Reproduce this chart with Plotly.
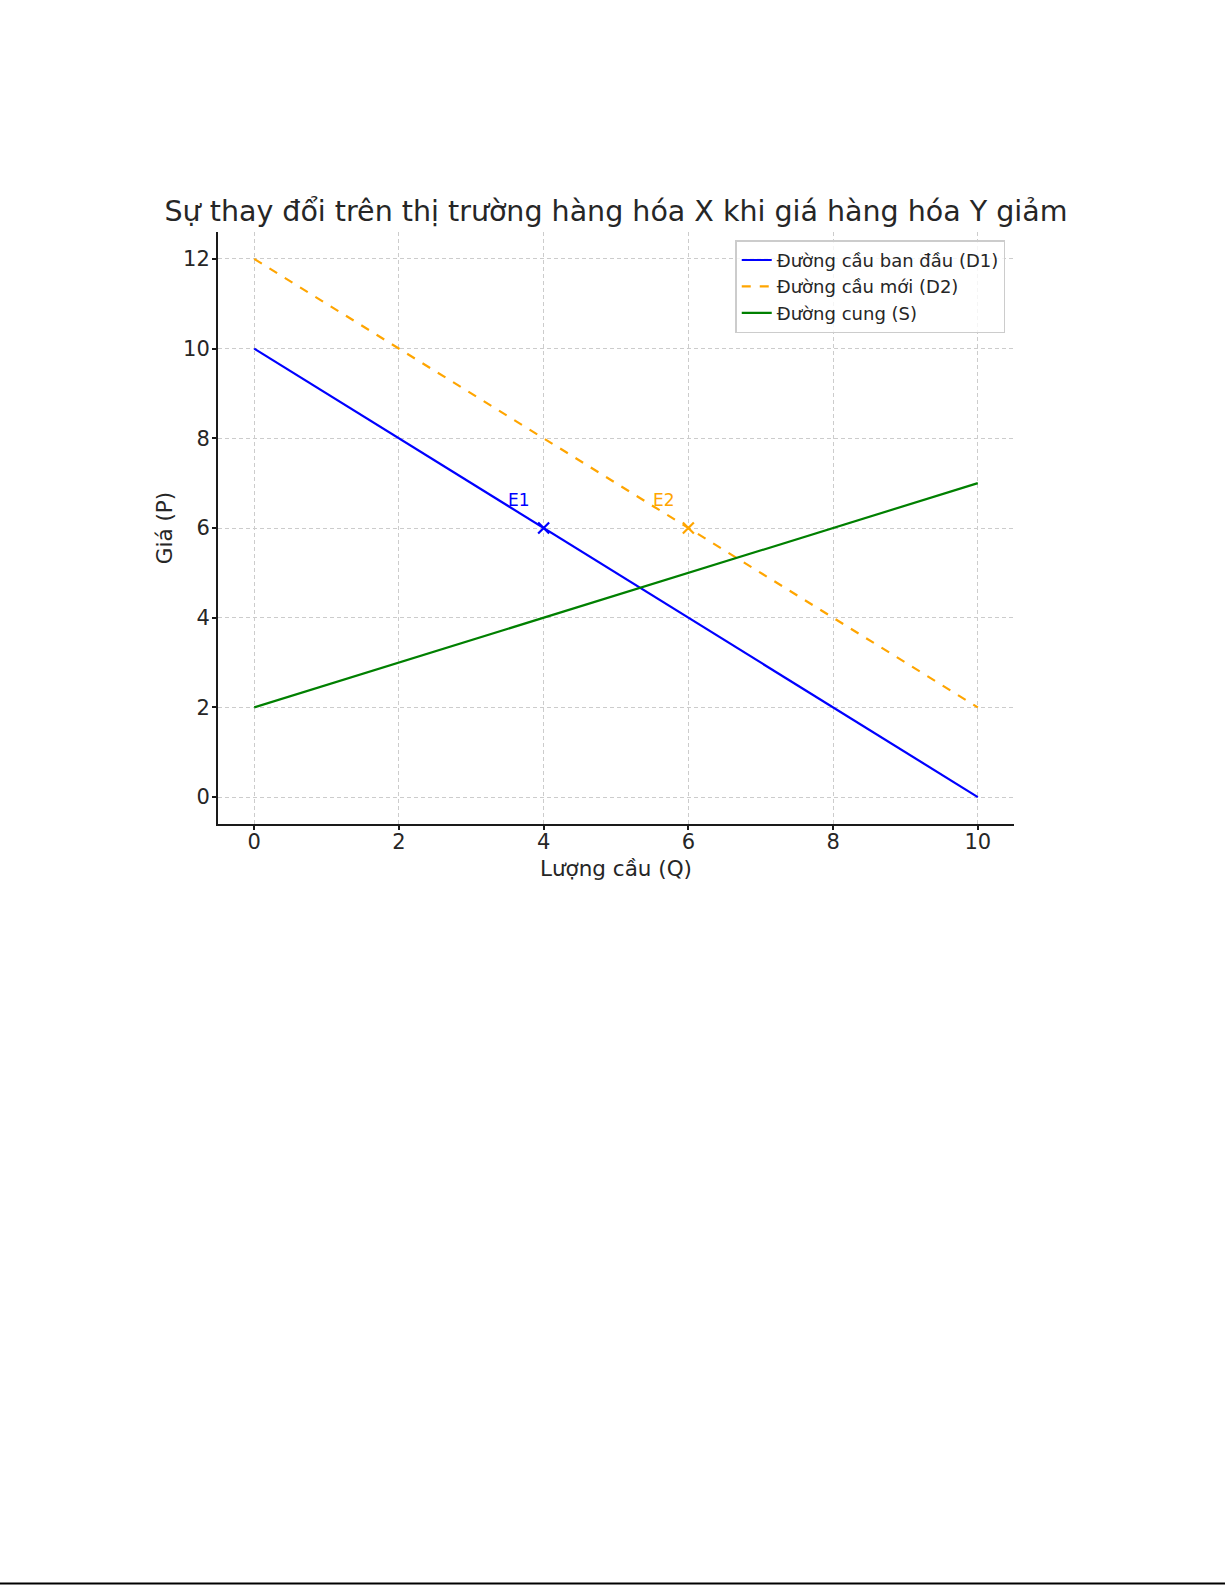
import plotly.graph_objects as go

# Data
q = [0, 10]
d1_price = [10, 0]
d2_price = [12, 2]
s_price = [2, 7]
eq_labels = ["E1", "E2"]
eq_q = [4, 6]
eq_p = [6, 6]
eq_colors = ["blue", "orange"]
x_ticks = [0, 2, 4, 6, 8, 10]
y_ticks = [0, 2, 4, 6, 8, 10, 12]

FONT = "DejaVu Sans"
TXT = "#262626"

fig = go.Figure()
fig.add_trace(go.Scatter(x=q, y=d1_price, mode="lines", name="Đường cầu ban đầu (D1)",
                         line=dict(color="#0000ff", width=2.2)))
fig.add_trace(go.Scatter(x=q, y=d2_price, mode="lines", name="Đường cầu mới (D2)",
                         line=dict(color="#ffa500", width=2.2, dash="dash")))
fig.add_trace(go.Scatter(x=q, y=s_price, mode="lines", name="Đường cung (S)",
                         line=dict(color="#008000", width=2.2)))
for lab, xq, yp, c in zip(eq_labels, eq_q, eq_p, eq_colors):
    fig.add_trace(go.Scatter(x=[xq], y=[yp], mode="markers", showlegend=False,
                             marker=dict(symbol="x-thin", size=11, color=c,
                                         line=dict(color=c, width=2.2))))
    fig.add_annotation(x=xq - 0.5, y=yp + 0.5, text=lab, showarrow=False,
                       xanchor="left", yanchor="bottom", xshift=-1, yshift=-6,
                       font=dict(family=FONT, size=17, color=c))

axis_common = dict(showgrid=True, gridcolor="#cccccc", griddash="4px,3px", gridwidth=1,
                   zeroline=False, showline=True, linecolor="#1a1a1a", linewidth=2,
                   ticks="outside", ticklen=4, tickwidth=1.5, tickcolor="#1a1a1a",
                   tickfont=dict(family=FONT, size=21, color=TXT), mirror=False)

fig.update_layout(
    width=1225, height=1585,
    margin=dict(l=218, r=211, t=232, b=761),
    paper_bgcolor="white", plot_bgcolor="white",
    title=dict(text="Sự thay đổi trên thị trường hàng hóa X khi giá hàng hóa Y giảm",
               x=616 / 1225, xanchor="center", y=1 - 211 / 1585, yanchor="middle",
               font=dict(family=FONT, size=28.5, color=TXT)),
    xaxis=dict(range=[-0.5, 10.5], tickvals=x_ticks, ticklabelstandoff=-6,
               title=dict(text="Lượng cầu (Q)", font=dict(family=FONT, size=21.5, color=TXT), standoff=8),
               **axis_common),
    yaxis=dict(range=[-0.6, 12.6], tickvals=y_ticks, ticklabelstandoff=-2,
               title=dict(text="Giá (P)", font=dict(family=FONT, size=21.5, color=TXT), standoff=5),
               **axis_common),
    legend=dict(x=0.989, y=0.986, xanchor="right", yanchor="top",
                bgcolor="rgba(255,255,255,0.8)", bordercolor="#cccccc", borderwidth=1.5,
                font=dict(family=FONT, size=18, color=TXT), tracegroupgap=2),
    showlegend=True,
)

# bottom page border line
fig.add_shape(type="line", xref="paper", yref="paper",
              x0=-218 / 796, x1=(1225 - 218) / 796,
              y0=(824 - 1583.5) / 592, y1=(824 - 1583.5) / 592,
              line=dict(color="black", width=2))

fig.write_html("out.html", config={"displayModeBar": False},
               post_script="document.body.style.margin='0';document.body.style.overflow='hidden';")
